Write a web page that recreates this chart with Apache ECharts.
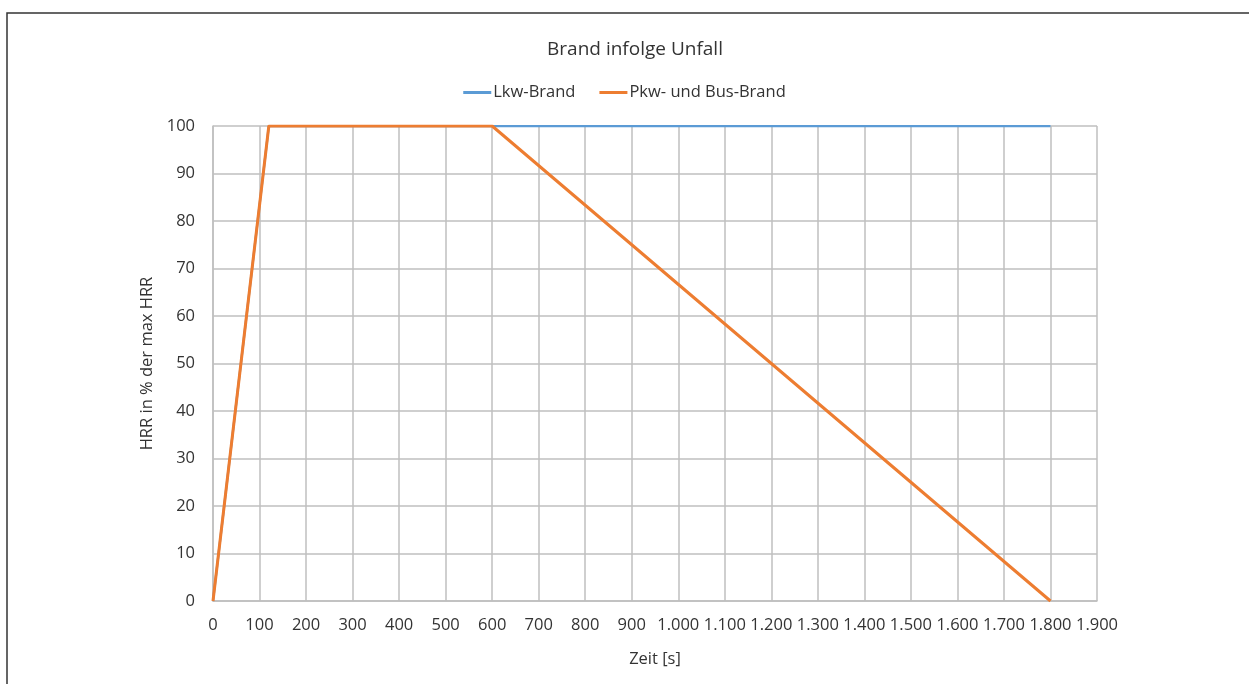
<!DOCTYPE html>
<html>
<head>
<meta charset="utf-8">
<script src="https://cdn.jsdelivr.net/npm/echarts@6/dist/echarts.min.js"></script>
<style>
  html, body { margin: 0; padding: 0; background: #fff; }
  #chart { width: 1249px; height: 684px; }
</style>
</head>
<body>
<div id="chart"></div>
<script>
// Time in seconds and HRR in % of maximum HRR
const lkwTime = [0, 120, 1800];
const lkwHrr = [0, 100, 100];
const pkwTime = [0, 120, 600, 1800];
const pkwHrr = [0, 100, 100, 0];
const seriesNames = ['Lkw-Brand', 'Pkw- und Bus-Brand'];

const pairs = (xs, ys) => xs.map((x, i) => [x, ys[i]]);
const fmtDE = v => String(v).replace(/\B(?=(\d{3})+(?!\d))/g, '.');

const FONT = '"Open Sans", sans-serif';
const TXT = '#333333';
const GRID = '#bfbfbf';

const chart = echarts.init(document.getElementById('chart'));
chart.setOption({
  animation: false,
  textStyle: { fontFamily: FONT },
  graphic: [{
    type: 'rect',
    shape: { x: 7, y: 13, width: 1270, height: 720 },
    style: { fill: 'none', stroke: '#333', lineWidth: 1.5 },
    silent: true
  }],
  title: {
    text: 'Brand infolge Unfall',
    left: 630, top: 35, textAlign: 'center',
    textStyle: { fontFamily: FONT, fontSize: 19, fontWeight: 'normal', color: TXT }
  },
  legend: {
    data: seriesNames,
    left: 'center', top: 79,
    itemWidth: 28, itemHeight: 3, itemGap: 24,
    icon: 'rect',
    textStyle: { fontFamily: FONT, fontSize: 16.5, color: TXT, padding: [0, 0, 0, -3] }
  },
  grid: { left: 213, right: 152, top: 126, bottom: 83, containLabel: false },
  xAxis: {
    type: 'value', min: 0, max: 1900, interval: 100,
    name: 'Zeit [s]', nameLocation: 'middle', nameGap: 50,
    nameTextStyle: { fontFamily: FONT, fontSize: 16.5, color: TXT },
    axisLine: { lineStyle: { color: GRID, width: 1.5 } },
    axisTick: { show: false },
    axisLabel: { formatter: fmtDE, fontFamily: FONT, fontSize: 16.5, color: TXT, margin: 16, hideOverlap: false },
    splitLine: { show: true, lineStyle: { color: GRID, width: 1.5 } }
  },
  yAxis: {
    type: 'value', min: 0, max: 100, interval: 10,
    name: 'HRR in % der max HRR', nameLocation: 'middle', nameGap: 56,
    nameTextStyle: { fontFamily: FONT, fontSize: 16.5, color: TXT },
    axisLine: { show: true, lineStyle: { color: GRID, width: 1.5 } },
    axisTick: { show: false },
    axisLabel: { fontFamily: FONT, fontSize: 16.5, color: TXT, margin: 18 },
    splitLine: { show: true, lineStyle: { color: GRID, width: 1.5 } }
  },
  series: [
    {
      name: seriesNames[0], type: 'line', data: pairs(lkwTime, lkwHrr),
      showSymbol: false, symbol: 'none',
      lineStyle: { color: '#5b9bd5', width: 2.25 }, itemStyle: { color: '#5b9bd5' }, z: 2
    },
    {
      name: seriesNames[1], type: 'line', data: pairs(pkwTime, pkwHrr),
      showSymbol: false, symbol: 'none',
      lineStyle: { color: '#ed7d31', width: 3 }, itemStyle: { color: '#ed7d31' }, z: 3
    }
  ]
});
</script>
</body>
</html>
